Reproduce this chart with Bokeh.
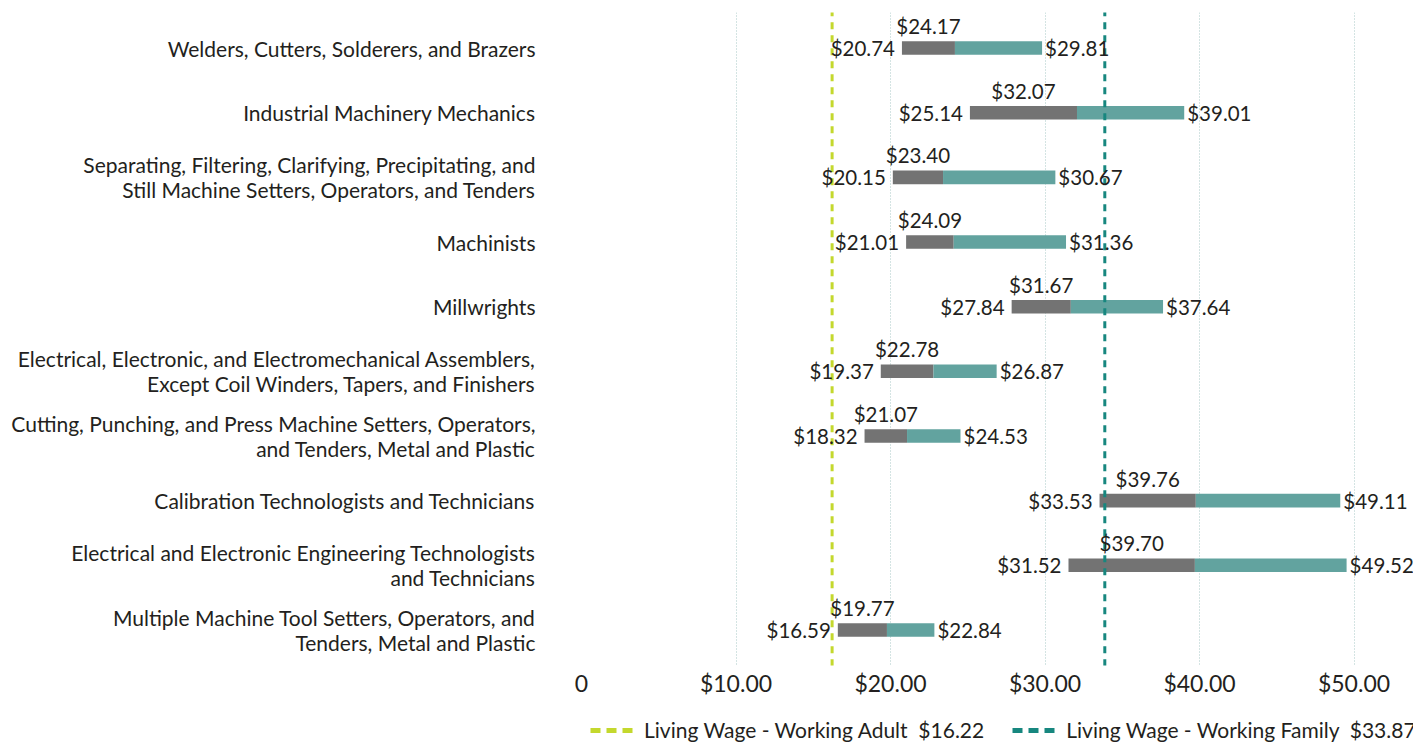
from bokeh.plotting import figure
from bokeh.layouts import column
from bokeh.models import Range1d, FixedTicker, Legend, LegendItem, ColumnDataSource
from bokeh.embed import file_html
from bokeh.resources import INLINE
from bokeh.core.properties import value

occupations = [
    "Welders, Cutters, Solderers, and Brazers",
    "Industrial Machinery Mechanics",
    "Separating, Filtering, Clarifying, Precipitating, and\nStill Machine Setters, Operators, and Tenders",
    "Machinists",
    "Millwrights",
    "Electrical, Electronic, and Electromechanical Assemblers,\nExcept Coil Winders, Tapers, and Finishers",
    "Cutting, Punching, and Press Machine Setters, Operators,\nand Tenders, Metal and Plastic",
    "Calibration Technologists and Technicians",
    "Electrical and Electronic Engineering Technologists\nand Technicians",
    "Multiple Machine Tool Setters, Operators, and\nTenders, Metal and Plastic",
]
low_wage = [20.74, 25.14, 20.15, 21.01, 27.84, 19.37, 18.32, 33.53, 31.52, 16.59]
median_wage = [24.17, 32.07, 23.40, 24.09, 31.67, 22.78, 21.07, 39.76, 39.70, 19.77]
high_wage = [29.81, 39.01, 30.67, 31.36, 37.64, 26.87, 24.53, 49.11, 49.52, 22.84]

living_wage_names = ["Living Wage - Working Adult", "Living Wage - Working Family"]
living_wage_values = [16.22, 33.87]

x_ticks = [0, 10, 20, 30, 40, 50]
x_tick_labels = ["0", "$10.00", "$20.00", "$30.00", "$40.00", "$50.00"]

FONT = "Lato"
TXT = "#231F20"
GRAY = "#737373"
TEAL_BAR = "#62A39F"
LIME = "#C4D82D"
TEAL_LINE = "#17877F"

n = len(occupations)
rows = list(range(n))
src = ColumnDataSource(dict(
    y=rows,
    low=low_wage,
    med=median_wage,
    high=high_wage,
    mid=[(a + b) / 2 for a, b in zip(low_wage, median_wage)],
    low_t=["$%.2f" % v for v in low_wage],
    med_t=["$%.2f" % v for v in median_wage],
    high_t=["$%.2f" % v for v in high_wage],
))

p = figure(
    frame_width=832, frame_height=653,
    x_range=Range1d(0, 53.85), y_range=Range1d(n - 0.45, -0.55),
    output_backend="svg", toolbar_location=None,
    min_border_left=581, min_border_right=0, min_border_top=12, min_border_bottom=36,
)
p.outline_line_color = None
p.background_fill_color = "white"

# grid
p.xgrid.ticker = FixedTicker(ticks=x_ticks)
p.xgrid.grid_line_color = "#A9C9C6"
p.xgrid.grid_line_dash = "1 2"
p.xgrid.grid_line_width = 1
p.ygrid.grid_line_color = None

# axes
p.xaxis.ticker = FixedTicker(ticks=x_ticks)
p.xaxis.major_label_overrides = {t: l for t, l in zip(x_ticks, x_tick_labels)}
p.xaxis.axis_line_color = None
p.xaxis.major_tick_line_color = None
p.xaxis.minor_tick_line_color = None
p.xaxis.major_tick_out = 0
p.xaxis.major_tick_in = 0
p.xaxis.minor_tick_out = 0
p.xaxis.major_label_standoff = 3
p.xaxis.major_label_text_font = FONT
p.xaxis.major_label_text_font_size = "23px"
p.xaxis.major_label_text_color = TXT

p.yaxis.ticker = FixedTicker(ticks=rows)
p.yaxis.major_label_overrides = {r: o for r, o in zip(rows, occupations)}
p.yaxis.axis_line_color = None
p.yaxis.major_tick_line_color = None
p.yaxis.minor_tick_line_color = None
p.yaxis.major_tick_out = 0
p.yaxis.major_tick_in = 0
p.yaxis.minor_tick_out = 0
p.yaxis.major_label_standoff = 46
p.yaxis.major_label_text_font = FONT
p.yaxis.major_label_text_font_size = "21px"
p.yaxis.major_label_text_line_height = 1.0
p.yaxis.major_label_text_color = TXT

# bars
p.hbar(y="y", left="low", right="med", height=0.21, source=src, fill_color=GRAY, line_color=None)
p.hbar(y="y", left="med", right="high", height=0.21, source=src, fill_color=TEAL_BAR, line_color=None)

# living wage lines
lw_colors = [LIME, TEAL_LINE]
for v, c in zip(living_wage_values, lw_colors):
    p.segment(x0=[v], x1=[v], y0=[-0.6], y1=[n - 0.4], line_color=c, line_width=3, line_dash="7 6")

# labels
common = dict(source=src, text_font=value(FONT), text_font_size="20.5px", text_color=TXT, text_baseline="middle")
p.text(x="low", y="y", text="low_t", x_offset=-7, text_align="right", **common)
p.text(x="high", y="y", text="high_t", x_offset=3, text_align="left", **common)
p.text(x="mid", y="y", text="med_t", y_offset=-22, text_align="center", **common)

# legend strip (separate figure below the chart)
leg = figure(width=1413, height=41, x_range=Range1d(0, 1), y_range=Range1d(0, 1),
             output_backend="svg", toolbar_location=None,
             min_border_left=0, min_border_right=0, min_border_top=0, min_border_bottom=0)
leg.axis.visible = False
leg.grid.visible = False
leg.outline_line_color = None

items = []
for name, v, c in zip(living_wage_names, living_wage_values, lw_colors):
    r = leg.line(x=[-100, -99], y=[-100, -100], line_color=c, line_width=5, line_dash="10 6")
    items.append(LegendItem(label="%s\u00a0\u00a0$%.2f" % (name, v), renderers=[r]))

legend = Legend(items=items, orientation="horizontal", location=(9, 0),
                label_text_font=FONT, label_text_font_size="21px", label_text_color=TXT,
                glyph_width=44, glyph_height=20, label_standoff=10, spacing=28,
                label_height=22,
                padding=4, margin=0, border_line_color=None, background_fill_alpha=0)
leg.add_layout(legend, "center")

layout = column(p, leg, spacing=0)
open("out.html", "w").write(file_html(layout, INLINE))
